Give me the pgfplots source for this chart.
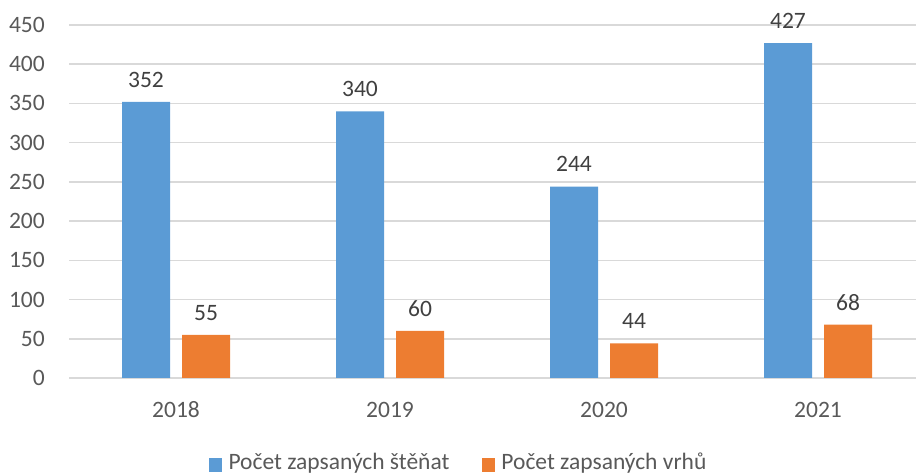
\documentclass[border=0pt]{standalone}
\usepackage{fontspec}
\setmainfont{Carlito}
\usepackage{pgfplots}
\pgfplotsset{compat=1.18}
\definecolor{blueb}{HTML}{5B9BD5}
\definecolor{orangeb}{HTML}{ED7D31}
\definecolor{gridc}{HTML}{D9D9D9}
\definecolor{txt}{HTML}{595959}
\definecolor{lbl}{HTML}{404040}
\begin{document}
\fontsize{23.5bp}{28bp}\selectfont
\begin{tikzpicture}[x=1bp,y=1bp]
\useasboundingbox (0,0) rectangle (916,474);
\begin{axis}[
  at={(69bp,96bp)}, anchor=south west,
  scale only axis, width=847bp, height=353bp,
  xmin=-0.5, xmax=3.458, ymin=0, ymax=450,
  ybar=12bp, bar width=48bp,
  axis line style={draw=none},
  major tick length=0pt,
  ytick={0,50,...,450},
  ymajorgrids, grid style={gridc, line width=1.5bp},
  xtick={0,1,2,3}, xticklabels={2018,2019,2020,2021},
  /pgf/number format/assume math mode=true,
  /pgf/number format/1000 sep={},
  yticklabel style={anchor=east, inner sep=0pt, xshift=-24bp, text=txt, font=\fontsize{23.5bp}{28bp}\selectfont},
  xticklabel style={anchor=base, inner sep=0pt, yshift=-39.4bp, text=txt, font=\fontsize{23.5bp}{28bp}\selectfont},
  nodes near coords,
  every node near coord/.append style={anchor=base, yshift=14.6bp, inner sep=0pt, text=lbl, font=\fontsize{23.5bp}{28bp}\selectfont},
  legend style={at={(0.4604,-0.2416)}, anchor=center, draw=none, fill=none,
    legend columns=-1, text=txt, font=\fontsize{23.5bp}{28bp}\selectfont,
    /tikz/every odd column/.append style={column sep=4bp},
    /tikz/every even column/.append style={column sep=30bp},
    nodes={inner sep=2.5bp}},
  legend cell align=left,
  legend image code/.code={\fill[#1] (0bp,-9bp) rectangle (13bp,5bp);},
]
\addplot[fill=blueb, draw=none] coordinates {(0,352) (1,340) (2,244) (3,427)};
\addplot[fill=orangeb, draw=none] coordinates {(0,55) (1,60) (2,44) (3,68)};
\legend{Počet zapsaných štěňat, Počet zapsaných vrhů}
\end{axis}
\end{tikzpicture}
\end{document}
